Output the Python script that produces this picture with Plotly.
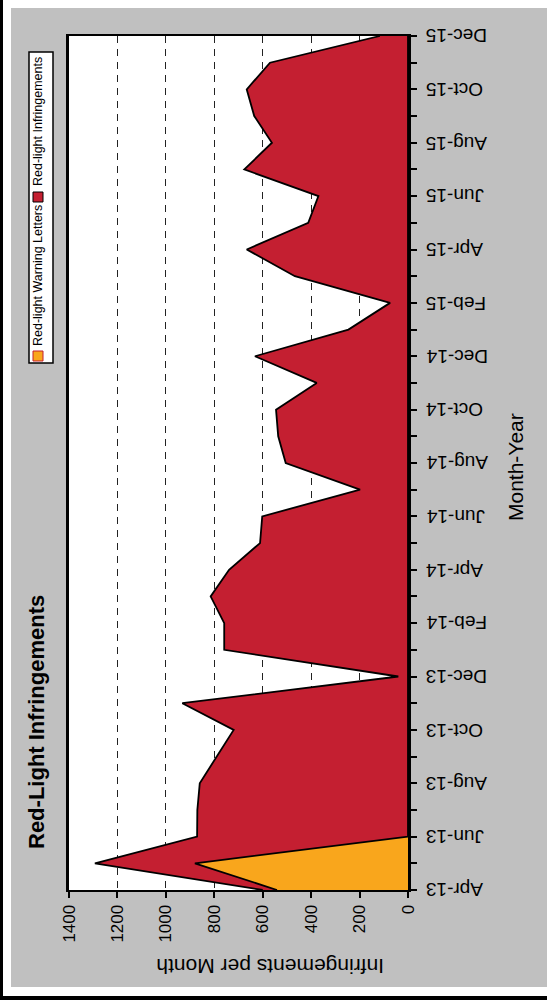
import plotly.graph_objects as go

# data read from the (rotated) reference chart
months = ['Apr-13', 'May-13', 'Jun-13', 'Jul-13', 'Aug-13', 'Sep-13', 'Oct-13', 'Nov-13',
          'Dec-13', 'Jan-14', 'Feb-14', 'Mar-14', 'Apr-14', 'May-14', 'Jun-14', 'Jul-14',
          'Aug-14', 'Sep-14', 'Oct-14', 'Nov-14', 'Dec-14', 'Jan-15', 'Feb-15', 'Mar-15',
          'Apr-15', 'May-15', 'Jun-15', 'Jul-15', 'Aug-15', 'Sep-15', 'Oct-15', 'Nov-15',
          'Dec-15']
warning_letters = [541, 880, 0, 0, 0, 0, 0, 0, 0, 0, 0, 0, 0, 0, 0, 0, 0,
                   0, 0, 0, 0, 0, 0, 0, 0, 0, 0, 0, 0, 0, 0, 0, 0]
infringements = [59, 413, 871, 870, 860, 790, 720, 932, 40, 759, 759, 815, 739, 611, 602, 198,
                 505, 536, 545, 377, 632, 246, 74, 467, 666, 412, 370, 676, 562, 635, 666, 570,
                 116]
value_ticks = [0, 200, 400, 600, 800, 1000, 1200, 1400]
month_labels = months[::2]

FONT = 'Liberation Sans, Arial, sans-serif'
RED = '#c41f31'
ORANGE = '#f9a61c'

W, H = 547, 1003
L, R, T, B = 69, 408, 36, 890   # plot area in pixels


def px_x(p):
    return (p - L) / (R - L)


def px_y(p):
    return (B - p) / (B - T)


def rect(x0, y0, x1, y1, fill, line_color=None, width=0):
    return dict(type='rect', xref='paper', yref='paper',
                x0=px_x(x0), x1=px_x(x1), y0=px_y(y0), y1=px_y(y1),
                fillcolor=fill, line=dict(color=line_color or fill, width=width),
                layer='above')


def note(text, x, y, size, angle):
    return dict(text=text, x=px_x(x), y=px_y(y), xref='paper', yref='paper',
                showarrow=False, textangle=angle, xanchor='center', yanchor='middle',
                font=dict(family=FONT, size=size, color='black'))


fig = go.Figure()
fig.add_trace(go.Scatter(x=warning_letters, y=months, name='Red-light Warning Letters',
                         stackgroup='one', orientation='h', fillcolor=ORANGE,
                         line=dict(color='black', width=1.8), mode='lines'))
fig.add_trace(go.Scatter(x=infringements, y=months, name='Red-light Infringements',
                         stackgroup='one', fillcolor=RED,
                         line=dict(color='black', width=1.8), mode='lines'))

fig.update_xaxes(range=[1400, 0], tickvals=value_ticks, tickangle=-90,
                 ticks='outside', ticklen=6, tickcolor='black', tickwidth=1.5,
                 showgrid=True, gridcolor='#222', griddash='7px,6px', gridwidth=1,
                 zeroline=False, showline=True, linecolor='black', linewidth=2, mirror=True,
                 tickfont=dict(family=FONT, size=17, color='black'))
# month ticks on the right; the upside-down labels are placed as annotations below
fig.update_yaxes(type='category', categoryorder='array', categoryarray=months,
                 range=[0, len(months) - 1], side='right', showticklabels=False,
                 tickvals=months, ticks='outside', ticklen=6, tickcolor='black', tickwidth=1.5,
                 showgrid=False, zeroline=False, showline=True, linecolor='black',
                 linewidth=2.5, mirror=True)

shapes = [
    rect(0, 0, 11, H, 'white'),
    rect(0, 0, W, 8, 'white'),
    rect(0, 987, W, H, 'white'),
    rect(0, 0, 3, 1000, 'black'),
    rect(0, 996, W, 1000, 'black'),
    # legend
    rect(29, 52, 53, 363, 'white', 'black', 1.5),
    rect(33, 351, 43, 361, ORANGE, RED, 1),
    rect(33, 192, 43, 202, RED, 'black', 1),
]

annotations = [
    note('<b>Red-Light Infringements</b>', 36, 722, 22, -90),
    note('Red-light Warning Letters', 38, 276, 12.5, -90),
    note('Red-light Infringements', 38, 122, 12.5, -90),
    note('Month-Year', 515, 467, 21, -90),
    note('Infringements per Month', 270, 967, 21, 180),
]
for m in month_labels:
    annotations.append(dict(text=m, x=px_x(424), y=m, xref='paper', yref='y',
                            showarrow=False, textangle=180, xanchor='left',
                            yanchor='middle',
                            font=dict(family=FONT, size=19, color='black')))

fig.update_layout(width=W, height=H, margin=dict(l=L, r=W - R, t=T, b=H - B),
                  paper_bgcolor='#c0c0c0', plot_bgcolor='white', showlegend=False,
                  shapes=shapes, annotations=annotations,
                  font=dict(family=FONT, color='black'))

fig.write_html('out.html', config={'displayModeBar': False},
               post_script="document.body.style.margin='0px';")
